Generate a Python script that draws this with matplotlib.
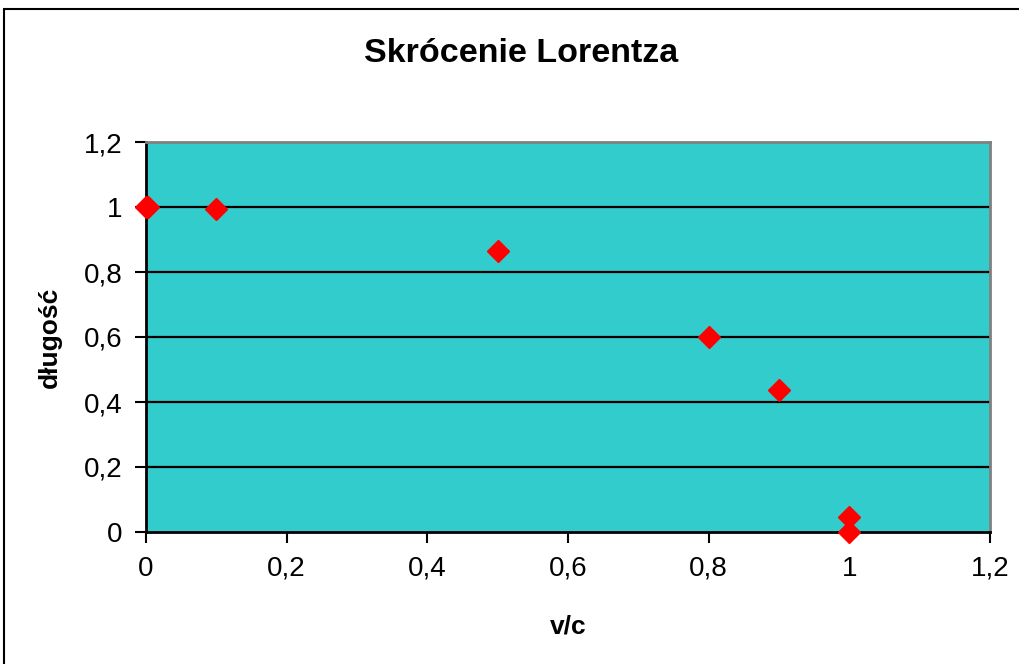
import matplotlib
matplotlib.use("Agg")
import matplotlib.pyplot as plt
from matplotlib.patches import Rectangle
from matplotlib.ticker import FuncFormatter

plt.rcParams['font.family'] = ['Liberation Sans', 'DejaVu Sans']

v_c = [0.0, 0.003, 0.1, 0.5, 0.8, 0.9, 0.999, 1.0]
dlugosc = [1.0, 1.0, 0.995, 0.866, 0.6, 0.436, 0.0447, 0.0]
xticks = [0, 0.2, 0.4, 0.6, 0.8, 1.0, 1.2]
yticks = [0, 0.2, 0.4, 0.6, 0.8, 1.0, 1.2]

W, H = 1019, 664
fig = plt.figure(figsize=(W/100, H/100), dpi=100)
fig.patch.set_facecolor('white')
ax = fig.add_axes([146/W, 1-532/H, (990-146)/W, (532-142)/H])
ax.set_facecolor('#33CCCC')

ax.set_xlim(0, 1.2)
ax.set_ylim(0, 1.2)
ax.set_xticks(xticks)
ax.set_yticks(yticks)
fmt = FuncFormatter(lambda v, p: ('%g' % round(v, 2)).replace('.', ','))
ax.xaxis.set_major_formatter(fmt)
ax.yaxis.set_major_formatter(fmt)

for y in yticks[1:-1]:
    ax.axhline(y, color='black', lw=1.6, zorder=1)

ax.plot(v_c, dlugosc, linestyle='none', marker='D', markersize=11.5,
        color='#FF0000', markeredgecolor='#FF0000', zorder=3, clip_on=False)

ax.spines['left'].set_color('black')
ax.spines['left'].set_linewidth(2)
ax.spines['bottom'].set_color('black')
ax.spines['bottom'].set_linewidth(2)
ax.spines['top'].set_color('#808080')
ax.spines['top'].set_linewidth(2)
ax.spines['right'].set_color('#808080')
ax.spines['right'].set_linewidth(2)

ax.tick_params(axis='both', direction='out', length=8, width=1.5, color='black',
               labelsize=20, pad=9)

ax.set_xlabel('v/c', fontsize=19, fontweight='bold', labelpad=24)
ax.set_ylabel('długość', fontsize=19, fontweight='bold', labelpad=16)
fig.text(521/W, 1-54/H, 'Skrócenie Lorentza', fontsize=24.5, fontweight='bold',
         ha='center', va='center')

fig.patches.append(Rectangle((4/W, -0.1), 1.2, 1 - 9/H + 0.1, transform=fig.transFigure,
                             fill=False, edgecolor='black', lw=1.5, clip_on=False))

fig.savefig('out.png', dpi=100)
